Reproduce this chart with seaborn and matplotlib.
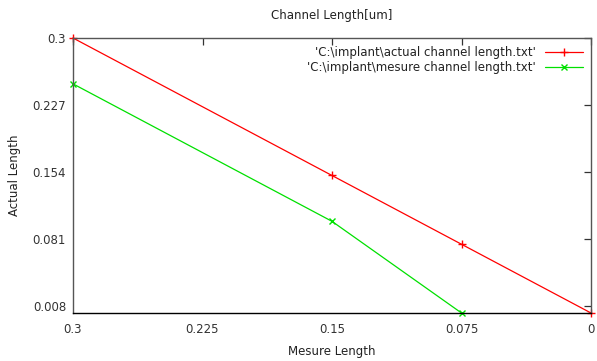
import matplotlib
matplotlib.use("Agg")
import matplotlib.pyplot as plt
import seaborn as sns
import pandas as pd

x_actual = [0.3, 0.15, 0.075, 0.0]
y_actual = [0.3, 0.15, 0.075, 0.0]
x_mesure = [0.3, 0.15, 0.075]
y_mesure = [0.25, 0.1, 0.0]
x_ticks = [0.3, 0.225, 0.15, 0.075, 0]
x_tick_labels = ["0.3", "0.225", "0.15", "0.075", "0"]
y_ticks = [0.008, 0.081, 0.154, 0.227, 0.3]
y_tick_labels = ["0.008", "0.081", "0.154", "0.227", "0.3"]
label_actual = r"'C:\implant\actual channel length.txt'"
label_mesure = r"'C:\implant\mesure channel length.txt'"

sns.set_style("white")
plt.rcParams['font.family'] = ['DejaVu Sans']

fig = plt.figure(figsize=(5.97, 3.61), dpi=100)
ax = fig.add_axes([73/597, 48/361, (591-73)/597, (313-38)/361])

df_a = pd.DataFrame({"x": x_actual, "y": y_actual})
df_m = pd.DataFrame({"x": x_mesure, "y": y_mesure})
sns.lineplot(data=df_a, x="x", y="y", ax=ax, color="#ff0000", lw=0.9,
             marker="+", markersize=5.5, mew=1.0, markeredgecolor="#ff0000",
             label=label_actual, sort=False, clip_on=False)
sns.lineplot(data=df_m, x="x", y="y", ax=ax, color="#00e000", lw=0.9,
             marker="x", markersize=4.5, mew=1.0, markeredgecolor="#00e000",
             label=label_mesure, sort=False, clip_on=False)

ax.set_xlim(0.3, 0.0)
ax.set_ylim(0.0, 0.3)
ax.set_xticks(x_ticks)
ax.set_xticklabels(x_tick_labels)
ax.set_yticks(y_ticks)
ax.set_yticklabels(y_tick_labels)
ax.tick_params(direction="in", length=5, width=0.9, top=True, right=True,
               labelsize=8.5, colors="#333333", pad=5)
ax.tick_params(axis="x", pad=7)
for s in ax.spines.values():
    s.set_color("#555555")
    s.set_linewidth(1.0)
ax.spines["bottom"].set_color("#000000")

ax.set_xlabel("Mesure Length", fontsize=8.5, color="#222222", labelpad=7)
ax.set_ylabel("Actual Length", fontsize=8.5, color="#222222", labelpad=8)
ax.set_title("Channel Length[um]", fontsize=8.5, color="#222222", pad=14)

leg = ax.legend(loc="upper right", frameon=False, markerfirst=False,
                fontsize=8.5, handlelength=3.2, borderaxespad=0.3,
                labelspacing=0.15, handletextpad=0.8)
for t in leg.get_texts():
    t.set_ha("right")
    t.set_color("#222222")
leg._legend_box.align = "right"

fig.savefig("out.png", dpi=100)
